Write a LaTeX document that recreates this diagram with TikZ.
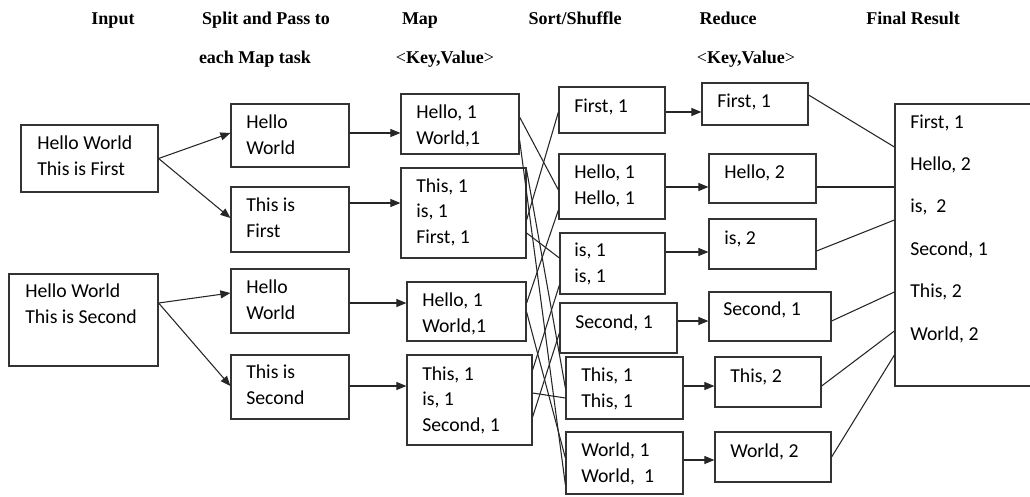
\documentclass[tikz,border=0pt]{standalone}
\usepackage{fontspec}
\setmainfont{Carlito}
\newfontfamily\headfont{Liberation Serif}
\usetikzlibrary{arrows.meta,fit}

\begin{document}
\begin{tikzpicture}[x=0.75pt,y=-0.75pt,
    box/.style={draw=black!80,line width=0.9pt,inner sep=0pt},
    txt/.style={anchor=base west,align=left,inner sep=0pt,font=\fontsize{14.8}{18.9}\selectfont},
    restxt/.style={txt,font=\fontsize{14.8}{31.8}\selectfont},
    head/.style={anchor=base,inner sep=0pt,font=\headfont\bfseries\fontsize{13.5}{16}\selectfont},
    link/.style={black!85,line width=0.8pt},
    flow/.style={link,-{Triangle[length=7.5pt,width=6pt]}}]
  \useasboundingbox (0,0) rectangle (1030,496);

  \node[head] (tinput) at (113,24) {Input};
  \node[head] (tsplit) at (266,24) {Split and Pass to};
  \node[head] (tsplitb) at (255,63) {each Map task};
  \node[head] (tmap) at (420,24) {Map};
  \node[head] (tmapkv) at (445,63) {{\mdseries<}Key,Value{\mdseries>}};
  \node[head] (tsort) at (575,24) {Sort/Shuffle};
  \node[head] (treduce) at (728,24) {Reduce};
  \node[head] (treducekv) at (746,63) {{\mdseries<}Key,Value{\mdseries>}};
  \node[head] (tfinal) at (913,24) {Final Result};

  \node[box,fit={(21,125) (158,192)}] (in1) {};
  \node[txt] (in1t) at (37,175) {Hello World\\This is First};
  \node[box,fit={(9,274) (158,366)}] (in2) {};
  \node[txt] (in2t) at (25,323) {Hello World\\This is Second};

  \node[box,fit={(231,104) (349,167)}] (s1) {};
  \node[txt] (s1t) at (246,154) {Hello\\World};
  \node[box,fit={(231,187) (349,252)}] (s2) {};
  \node[txt] (s2t) at (246,237) {This is\\First};
  \node[box,fit={(231,269) (349,333)}] (s3) {};
  \node[txt] (s3t) at (246,319) {Hello\\World};
  \node[box,fit={(231,355) (349,419)}] (s4) {};
  \node[txt] (s4t) at (246,404) {This is\\Second};

  \node[box,fit={(401,94) (519,154)}] (m1) {};
  \node[txt] (m1t) at (416,144) {Hello, 1\\World,1};
  \node[box,fit={(401,168) (526,258)}] (m2) {};
  \node[txt] (m2t) at (416,243) {This, 1\\is, 1\\First, 1};
  \node[box,fit={(407,282) (526,341)}] (m3) {};
  \node[txt] (m3t) at (422,332) {Hello, 1\\World,1};
  \node[box,fit={(407,355) (532,445)}] (m4) {};
  \node[txt] (m4t) at (422,431) {This, 1\\is, 1\\Second, 1};

  \node[box,fit={(559,87) (665,133)}] (h1) {};
  \node[txt] (h1t) at (574,112) {First, 1};
  \node[box,fit={(559,154) (665,219)}] (h2) {};
  \node[txt] (h2t) at (574,204) {Hello, 1\\Hello, 1};
  \node[box,fit={(560,233) (665,294)}] (h3) {};
  \node[txt] (h3t) at (574,282) {is, 1\\is, 1};
  \node[box,fit={(560,303) (677,353)}] (h4) {};
  \node[txt] (h4t) at (575,328) {Second, 1};
  \node[box,fit={(566,357) (683,419)}] (h5) {};
  \node[txt] (h5t) at (581,407) {This, 1\\This, 1};
  \node[box,fit={(566,432) (683,494)}] (h6) {};
  \node[txt] (h6t) at (581,482) {World, 1\\World,\ \ 1};

  \node[box,fit={(702,83) (808,125)}] (r1) {};
  \node[txt] (r1t) at (717,107) {First, 1};
  \node[box,fit={(709,154) (816,203)}] (r2) {};
  \node[txt] (r2t) at (724,178) {Hello, 2};
  \node[box,fit={(709,219) (816,269)}] (r3) {};
  \node[txt] (r3t) at (724,244) {is, 2};
  \node[box,fit={(709,292) (831,341)}] (r4) {};
  \node[txt] (r4t) at (723,315) {Second, 1};
  \node[box,fit={(715,357) (821,407)}] (r5) {};
  \node[txt] (r5t) at (730,382) {This, 2};
  \node[box,fit={(715,432) (831,482)}] (r6) {};
  \node[txt] (r6t) at (730,457) {World, 2};

  \node[box,fit={(895,104) (1040,386)}] (res) {};
  \node[restxt] (rest) at (910,340) {First, 1\\Hello, 2\\is,\ \ 2\\Second, 1\\This, 2\\World, 2};

  \draw[flow] (in1.east) -- (s1.west |- 0,133);
  \draw[flow] (in1.east) -- (s2.west |- 0,218);
  \draw[flow] (in2.east |- 0,303) -- (s3.west |- 0,293);
  \draw[flow] (in2.east |- 0,303) -- (s4.west |- 0,386);

  \draw[flow] (s1.east |- 0,133) -- (m1.west |- 0,133);
  \draw[flow] (s2.east |- 0,203) -- (m2.west |- 0,203);
  \draw[flow] (s3.east |- 0,303) -- (m3.west |- 0,303);
  \draw[flow] (s4.east |- 0,386) -- (m4.west |- 0,386);

  \draw[link] (m1.east |- 0,117) -- (h2.west |- 0,190);
  \draw[link] (m1.east |- 0,140) -- (h6.west |- 0,485);
  \draw[link] (m2.east |- 0,170) -- (h5.west |- 0,388);
  \draw[link] (m2.east |- 0,220) -- (h1.west |- 0,112);
  \draw[link] (m2.east |- 0,233) -- (h3.west |- 0,258);
  \draw[link] (m3.east |- 0,303) -- (h2.west |- 0,210);
  \draw[link] (m3.east |- 0,312) -- (h6.west |- 0,458);
  \draw[link] (m4.east |- 0,370) -- (h3.west |- 0,285);
  \draw[link] (m4.east |- 0,393) -- (h5.west |- 0,398);
  \draw[link] (m4.east |- 0,417) -- (h4.west |- 0,333);

  \draw[flow] (h1.east |- 0,112) -- (r1.west |- 0,112);
  \draw[flow] (h2.east |- 0,187) -- (r2.west |- 0,187);
  \draw[flow] (h3.east |- 0,252) -- (r3.west |- 0,252);
  \draw[flow] (h4.east |- 0,321) -- (r4.west |- 0,321);
  \draw[flow] (h5.east |- 0,386) -- (r5.west |- 0,386);
  \draw[flow] (h6.east |- 0,460) -- (r6.west |- 0,460);

  \draw[link] (r1.east |- 0,95) -- (res.west |- 0,147);
  \draw[link] (r2.east |- 0,187) -- (res.west |- 0,187);
  \draw[link] (r3.east |- 0,251) -- (res.west |- 0,220);
  \draw[link] (r4.east |- 0,321) -- (res.west |- 0,292);
  \draw[link] (r5.east |- 0,386) -- (res.west |- 0,331);
  \draw[link] (r6.east |- 0,457) -- (res.west |- 0,355);
\end{tikzpicture}
\end{document}
